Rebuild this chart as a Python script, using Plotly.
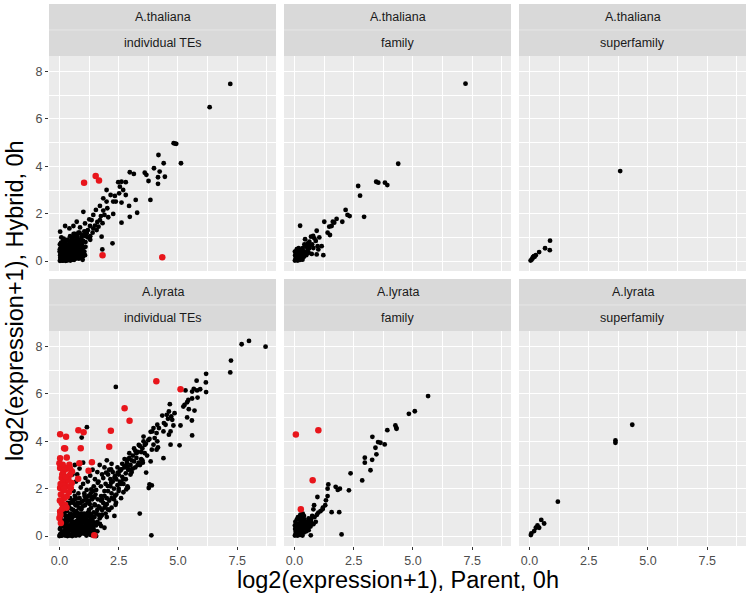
import plotly.graph_objects as go

# ---------------- data ----------------
species = ["A.thaliana", "A.thaliana", "A.thaliana", "A.lyrata", "A.lyrata", "A.lyrata"]
levels = ["individual TEs", "family", "superfamily", "individual TEs", "family", "superfamily"]

x_tick_vals = [0, 2.5, 5, 7.5]
x_tick_text = ["0.0", "2.5", "5.0", "7.5"]
y_tick_vals = [0, 2, 4, 6, 8]
y_tick_text = ["0", "2", "4", "6", "8"]

thal_ind_black = [
    (7.21, 7.48), (6.34, 6.5), (4.82, 4.98), (4.88, 4.96), (4.93, 4.95), (5.13, 4.13),
    (4.18, 4.48), (4.4, 4.13), (3.99, 3.92), (4.23, 3.78), (4.45, 3.56), (4.16, 3.54),
    (4.16, 3.26), (3.6, 3.73), (3.67, 3.64), (3.76, 3.38), (3.84, 2.58), (2.97, 3.75),
    (3.14, 3.68), (2.48, 3.33), (2.62, 3.35), (2.8, 3.33), (2.55, 3.14), (2.69, 3.0),
    (2.52, 2.86), (2.8, 2.79), (2.34, 2.75), (1.99, 3.0), (2.16, 2.79), (2.27, 2.51),
    (1.99, 2.51), (1.85, 2.65), (1.71, 2.33), (2.02, 2.23), (2.38, 2.51), (2.62, 2.47),
    (2.94, 2.33), (3.22, 2.58), (3.28, 2.04), (2.97, 1.87), (2.62, 1.62), (2.27, 1.99),
    (2.06, 1.85), (1.85, 2.13), (1.54, 2.16), (1.43, 1.95), (1.26, 1.76), (1.01, 2.08),
    (1.08, 1.59), (0.87, 1.42), (0.73, 1.66), (0.59, 1.48), (0.42, 1.38), (0.24, 1.48),
    (0.03, 1.24), (1.29, 1.48), (1.43, 1.38), (1.57, 1.31), (1.78, 1.03), (2.24, 0.75),
    (1.81, 0.49), (1.71, 1.73), (1.36, 1.73), (1.15, 1.17), (0.94, 1.1), (1.9, 1.95),
    (1.75, 1.9), (1.6, 1.65), (1.5, 1.5), (1.65, 1.45), (1.82, 1.6), (1.4, 1.2),
    (1.2, 1.3), (1.05, 1.25), (1.3, 1.05), (0.8, 1.2), (0.7, 1.0), (0.6, 1.15),
    (0.02, 0.01), (0.05, 0.08), (0.1, 0.03), (0.15, 0.12), (0.2, 0.05), (0.25, 0.18),
    (0.3, 0.08), (0.35, 0.22), (0.4, 0.1), (0.45, 0.3), (0.5, 0.15), (0.55, 0.35),
    (0.6, 0.2), (0.65, 0.4), (0.7, 0.28), (0.75, 0.5), (0.8, 0.35), (0.85, 0.6),
    (0.9, 0.45), (0.95, 0.7), (1.0, 0.55), (0.03, 0.25), (0.08, 0.35), (0.12, 0.45),
    (0.06, 0.55), (0.1, 0.62), (0.18, 0.5), (0.22, 0.4), (0.28, 0.55), (0.32, 0.65),
    (0.38, 0.48), (0.42, 0.6), (0.48, 0.72), (0.52, 0.55), (0.58, 0.65), (0.62, 0.8),
    (0.68, 0.62), (0.72, 0.85), (0.78, 0.75), (0.82, 0.9), (0.88, 0.82), (0.92, 0.95),
    (0.04, 0.15), (0.14, 0.22), (0.24, 0.3), (0.34, 0.38), (0.44, 0.45), (0.16, 0.02),
    (0.26, 0.01), (0.36, 0.04), (0.46, 0.02), (0.56, 0.06), (0.66, 0.1), (0.76, 0.15),
    (0.86, 0.22), (0.01, 0.4), (0.02, 0.7), (0.07, 0.78), (0.15, 0.85), (0.25, 0.75),
    (0.35, 0.9), (1.1, 0.8), (1.2, 1.0), (1.05, 1.1), (1.3, 0.9), (0.55, 1.0),
    (0.45, 1.05), (0.65, 1.15), (0.85, 1.2), (1.15, 1.25), (0.3, 0.02), (0.1, 0.2),
    (0.2, 0.28), (0.05, 0.45), (0.96, 0.3), (0.9, 0.15), (0.18, 0.95), (0.08, 1.0),
    (0.05, 0.3), (0.1, 0.1), (0.15, 0.35), (0.2, 0.15), (0.25, 0.45), (0.3, 0.3),
    (0.35, 0.6), (0.4, 0.35), (0.45, 0.15), (0.5, 0.4), (0.55, 0.2), (0.6, 0.5),
    (0.65, 0.3), (0.7, 0.5), (0.75, 0.2), (0.8, 0.65), (0.85, 0.4), (0.9, 0.7),
    (0.02, 0.5), (0.08, 0.6), (0.12, 0.75), (0.18, 0.75), (0.22, 0.6), (0.28, 0.85),
    (0.32, 0.45), (0.38, 0.7), (0.42, 0.85), (0.48, 0.55), (0.52, 0.9), (0.58, 0.8),
    (0.62, 0.6), (0.68, 0.85), (0.72, 0.7), (0.78, 0.55), (0.04, 0.05), (0.12, 0.02),
    (0.22, 0.1), (0.32, 0.18), (0.42, 0.25), (0.52, 0.08), (0.62, 0.05), (0.72, 0.12),
    (0.82, 0.1), (0.92, 0.3), (1.0, 0.2), (1.0, 0.85), (1.1, 1.05), (0.95, 1.05),
    (0.75, 1.05), (0.5, 0.8), (1.05, 0.4), (1.1, 0.6), (0.98, 0.05), (1.08, 0.25),
]
thal_ind_red = [(1.04, 3.31), (1.53, 3.59), (1.67, 3.4), (1.82, 0.25), (4.34, 0.16)]

thal_fam_black = [
    (7.22, 7.49), (4.38, 4.11), (3.45, 3.35), (3.54, 3.31), (3.82, 3.31), (3.92, 3.21),
    (2.69, 3.17), (2.77, 2.76), (2.94, 1.87), (2.16, 2.16), (2.24, 1.95), (2.33, 1.9),
    (2.02, 1.66), (1.78, 1.78), (1.68, 1.62), (1.57, 1.48), (1.47, 1.45), (1.26, 1.66),
    (1.62, 1.66), (1.4, 1.2), (1.5, 1.1), (0.94, 1.28), (0.79, 1.06), (1.15, 0.63),
    (1.01, 0.49), (1.22, 0.25), (0.94, 0.28), (0.73, 0.3), (0.62, 0.54), (0.45, 0.92),
    (0.56, 0.75), (0.24, 1.49), (0.98, 0.63), (0.84, 0.96), (0.7, 1.03), (0.63, 0.82),
    (1.05, 1.0), (0.9, 0.85), (0.5, 0.6), (0.42, 0.7), (0.35, 0.55), (0.3, 0.45),
    (0.02, 0.02), (0.05, 0.1), (0.1, 0.05), (0.15, 0.15), (0.2, 0.08), (0.25, 0.2),
    (0.3, 0.12), (0.35, 0.28), (0.4, 0.18), (0.45, 0.35), (0.5, 0.25), (0.03, 0.25),
    (0.08, 0.32), (0.12, 0.4), (0.18, 0.3), (0.22, 0.45), (0.28, 0.38), (0.38, 0.42),
    (0.06, 0.18), (0.14, 0.02), (0.24, 0.05), (0.34, 0.06), (0.55, 0.45), (0.6, 0.35),
    (0.65, 0.65), (0.75, 0.7), (0.8, 0.55), (0.02, 0.4), (0.1, 0.5), (0.18, 0.55),
    (0.08, 0.12), (0.16, 0.22), (0.26, 0.1), (0.32, 0.22), (0.12, 0.28), (0.2, 0.38),
]
thal_fam_red = []

thal_sup_black = [
    (3.83, 3.8), (0.87, 0.86), (0.86, 0.46), (0.66, 0.54), (0.41, 0.38), (0.19, 0.21),
    (0.22, 0.18), (0.13, 0.11), (0.09, 0.06), (0.05, 0.02), (0.15, 0.16), (0.27, 0.25),
]
thal_sup_red = []

lyr_ind_black = [
    (7.69, 8.1), (8.0, 8.24), (8.7, 8.0), (7.24, 7.41), (7.21, 6.91), (6.19, 6.85),
    (6.18, 6.49), (6.19, 6.08), (5.79, 6.56), (5.94, 6.2), (5.81, 6.15), (5.67, 6.22),
    (5.6, 6.1), (5.32, 6.15), (5.83, 5.85), (5.6, 5.81), (5.44, 5.75), (5.39, 5.65),
    (5.28, 5.54), (5.23, 5.47), (5.46, 5.36), (5.7, 5.3), (4.66, 5.57), (4.86, 5.19),
    (4.62, 5.26), (4.53, 5.12), (4.34, 5.09), (4.72, 5.05), (5.39, 5.01), (5.59, 4.88),
    (4.76, 4.91), (4.58, 4.95), (4.41, 4.77), (4.13, 4.7), (4.2, 4.56), (4.48, 4.7),
    (4.81, 4.67), (5.11, 4.67), (3.97, 4.56), (3.92, 4.42), (4.1, 4.35), (4.39, 4.42),
    (4.69, 4.42), (4.62, 4.28), (5.6, 4.25), (4.02, 4.14), (4.13, 4.0), (3.97, 3.86),
    (4.16, 3.74), (4.69, 3.86), (5.07, 3.83), (3.9, 3.65), (4.1, 3.65), (4.39, 3.29),
    (3.85, 3.15), (3.9, 2.14), (3.88, 0.03), (3.39, 0.95), (2.38, 6.3), (1.16, 4.6),
    (0.94, 4.16), (0.4, 2.94), (1.71, 0.51), (2.37, 1.32), (2.87, 2.1), (3.77, 2.03),
    (3.75, 4.05), (3.6, 3.85), (3.5, 3.7), (3.7, 3.4), (3.55, 4.0), (3.4, 3.8),
    (3.3, 3.55), (3.2, 3.6), (3.1, 3.4), (3.25, 3.3), (3.0, 3.0), (3.15, 3.15),
    (2.95, 3.3), (2.85, 3.1), (2.75, 2.9), (2.8, 2.65), (2.9, 2.8), (3.05, 2.7),
    (3.35, 3.1), (3.45, 3.25), (3.6, 3.5), (3.65, 3.9), (3.8, 4.1), (3.85, 4.4),
    (3.5, 3.2), (3.3, 3.0), (3.1, 2.85), (3.66, 2.68), (3.8, 2.18), (3.52, 3.1),
    (2.6, 2.8), (2.65, 2.5), (2.5, 2.6), (2.55, 2.3), (2.45, 2.15), (2.4, 2.4),
    (2.7, 2.2), (2.35, 1.7), (2.3, 2.0), (2.25, 2.3), (2.2, 1.8), (2.15, 2.1),
    (2.1, 1.5), (2.05, 1.9), (2.0, 1.6), (1.95, 1.3), (1.9, 1.7), (1.85, 1.4),
    (1.8, 1.1), (1.75, 1.5), (1.7, 1.2), (1.65, 0.9), (1.6, 0.6), (1.54, 0.45),
    (2.18, 2.82), (1.97, 2.68), (2.61, 2.25), (2.82, 1.97), (2.39, 1.41), (2.04, 1.13),
    (1.76, 0.85), (1.48, 0.56), (1.2, 0.28), (1.76, 0.42), (2.32, 0.85), (1.62, 2.25),
    (1.34, 1.97), (1.06, 1.69), (0.77, 1.41), (1.2, 1.41), (0.92, 1.13), (0.63, 0.85),
    (2.89, 2.04), (2.96, 2.82), (2.89, 3.24), (2.75, 2.96), (2.61, 2.82), (2.46, 2.68),
    (2.32, 2.46), (2.18, 2.25), (2.04, 2.11), (1.9, 1.9), (1.76, 1.69), (1.62, 1.55),
    (1.48, 1.34), (1.34, 1.2), (1.2, 0.99), (1.06, 0.85), (0.92, 0.7), (2.5, 1.9),
    (2.6, 1.6), (2.2, 1.2), (2.0, 0.8), (1.9, 0.35), (2.3, 1.55), (2.7, 2.4),
    (0.5, 2.2), (0.6, 1.9), (0.7, 2.3), (0.55, 2.6), (0.65, 1.7), (0.45, 1.6),
    (0.35, 1.4), (0.25, 1.25), (0.8, 1.8), (0.9, 2.05), (1.0, 2.2), (1.1, 2.45),
    (0.75, 2.6), (0.85, 2.85), (1.2, 2.3), (1.3, 2.55), (1.4, 2.8), (1.5, 2.4),
    (1.6, 2.7), (1.7, 3.0), (1.8, 2.6), (1.9, 2.9), (2.0, 3.2), (2.1, 2.8),
    (2.2, 3.05), (1.0, 3.1), (0.65, 3.0),
    (0.0, 0.0), (0.05, 0.1), (0.1, 0.02), (0.15, 0.2), (0.2, 0.08), (0.25, 0.3),
    (0.3, 0.12), (0.35, 0.4), (0.4, 0.05), (0.45, 0.25), (0.5, 0.5), (0.55, 0.15),
    (0.6, 0.35), (0.65, 0.6), (0.7, 0.02), (0.75, 0.3), (0.8, 0.55), (0.85, 0.8),
    (0.9, 0.1), (0.95, 0.4), (1.0, 0.7), (1.05, 0.95), (1.1, 0.2), (1.15, 0.5),
    (1.2, 0.85), (1.25, 1.1), (1.3, 0.05), (1.35, 0.35), (1.4, 0.65), (1.45, 1.0),
    (1.5, 1.3), (0.02, 0.3), (0.04, 0.55), (0.06, 0.8), (0.08, 1.0), (0.12, 1.2),
    (0.1, 0.45), (0.18, 0.65), (0.22, 0.9), (0.28, 0.7), (0.32, 1.05), (0.38, 0.85),
    (0.42, 1.2), (0.48, 0.95), (0.52, 0.75), (0.58, 1.1), (0.62, 0.9), (0.68, 1.3),
    (0.72, 1.05), (0.78, 0.8), (0.82, 1.2), (0.88, 1.4), (0.92, 1.15), (0.98, 1.25),
    (1.02, 1.5), (1.08, 1.3), (1.12, 1.6), (1.18, 1.45), (1.22, 1.7), (1.28, 1.35),
    (1.32, 1.8), (1.38, 1.55), (1.42, 1.9), (1.48, 1.65), (1.52, 1.75), (0.14, 0.05),
    (0.24, 0.02), (0.34, 0.0), (0.44, 0.02), (0.54, 0.0), (0.64, 0.04), (0.74, 0.08),
    (0.84, 0.03), (0.94, 0.2), (1.04, 0.1), (1.14, 0.02), (1.24, 0.25), (1.34, 0.15),
    (1.44, 0.3), (0.3, 0.55), (0.4, 0.65), (0.5, 0.3), (0.6, 0.55), (0.7, 0.45),
    (0.8, 0.2), (0.9, 0.6), (1.0, 0.35), (1.1, 0.65), (1.2, 0.5), (1.3, 0.7),
    (0.15, 0.45), (0.25, 0.5), (0.35, 0.15), (0.45, 0.75), (0.55, 0.6), (0.65, 0.25),
    (0.75, 0.95), (0.85, 0.45), (0.95, 0.95), (1.05, 0.4), (1.15, 0.8), (1.25, 0.6),
    (0.2, 1.05), (0.3, 1.25), (0.4, 1.35), (0.5, 1.15), (0.6, 1.4), (0.7, 1.6),
    (1.6, 0.2), (1.55, 0.0), (1.4, 0.02), (1.65, 1.25), (1.8, 1.55), (1.95, 0.95),
    (0.05, 0.35), (0.15, 0.6), (0.25, 0.85), (0.35, 0.65), (0.45, 0.9), (0.55, 0.85),
    (0.65, 0.95), (0.75, 0.65), (0.85, 0.95), (0.95, 0.6), (1.05, 0.75), (1.15, 0.35),
    (1.25, 0.85), (1.35, 0.9), (1.45, 0.55), (1.55, 0.95), (1.6, 1.1), (1.7, 0.75),
    (1.8, 0.9), (1.9, 1.2), (2.0, 1.35), (2.1, 1.1), (0.1, 0.15), (0.2, 0.4),
    (0.3, 0.25), (0.4, 0.45), (0.5, 0.05), (0.6, 0.12), (0.7, 0.2), (0.8, 0.1),
    (0.9, 0.3), (1.0, 0.15), (1.1, 0.45), (1.2, 0.15), (1.3, 0.45), (1.4, 0.45),
    (1.5, 0.2), (0.05, 0.7), (0.15, 1.0), (0.25, 1.1), (0.35, 1.2), (0.45, 1.4),
    (0.55, 1.5), (0.65, 1.55), (0.75, 1.3), (0.85, 1.6), (0.95, 1.45), (1.05, 1.8),
    (1.15, 1.95), (1.25, 1.5), (1.35, 1.65), (1.45, 2.1), (1.55, 1.95), (1.65, 2.3),
    (1.75, 2.1), (1.85, 2.45), (1.95, 2.2), (2.05, 2.6), (2.15, 2.4), (2.25, 2.7),
    (2.35, 2.55), (2.45, 2.9), (2.55, 2.75), (2.65, 3.05), (2.75, 3.25), (2.85, 2.95),
    (2.95, 3.5), (3.05, 3.2), (3.15, 3.7), (3.25, 3.5), (3.35, 3.85), (3.45, 3.55),
    (3.55, 4.2), (2.5, 2.0), (2.6, 2.2), (2.8, 2.4), (3.0, 2.6), (3.2, 2.9),
    (3.4, 3.0), (2.2, 1.6), (2.4, 1.75), (2.7, 1.85), (0.02, 0.05), (0.08, 0.02),
    (0.12, 0.1), (0.18, 0.12), (0.22, 0.2), (0.28, 0.15), (0.32, 0.35), (0.38, 0.28),
    (0.42, 0.35), (0.48, 0.4), (0.52, 0.3), (0.58, 0.25), (0.62, 0.45), (0.68, 0.5),
    (0.72, 0.6), (0.78, 0.45), (0.82, 0.35), (0.88, 0.7), (0.92, 0.5), (0.98, 0.85),
    (1.02, 0.3), (1.08, 0.55), (1.12, 0.9), (1.18, 0.65), (1.22, 0.4), (1.28, 0.95),
    (1.32, 0.6), (1.38, 0.8), (1.42, 0.15), (1.48, 0.8),
]
lyr_ind_red = [
    (4.09, 6.54), (5.11, 6.2), (2.75, 5.4), (2.96, 4.87), (2.17, 4.45), (2.1, 3.77),
    (0.03, 4.3), (0.28, 4.19), (0.8, 4.47), (1.02, 4.38), (0.2, 3.71), (0.24, 3.7),
    (0.9, 3.71), (0.03, 3.29), (0.31, 3.32), (0.84, 3.08), (1.37, 3.12), (1.23, 2.76),
    (0.79, 2.42), (1.47, 0.03),
    (0.03, 2.87), (0.17, 2.73), (0.31, 2.84), (0.45, 2.59), (0.1, 2.45), (0.24, 2.31),
    (0.38, 2.38), (0.52, 2.24), (0.03, 2.03), (0.17, 1.92), (0.34, 2.1), (0.48, 2.03),
    (0.06, 1.75), (0.2, 1.6), (0.31, 1.67), (0.1, 1.39), (0.24, 1.32), (0.03, 1.04),
    (0.0, 0.76), (0.06, 0.55), (0.24, 2.87), (0.42, 3.01), (0.53, 2.73), (0.14, 3.01),
    (0.0, 3.08), (0.12, 2.6), (0.27, 2.5), (0.05, 2.2), (0.15, 2.15), (0.4, 1.85),
    (0.02, 1.5), (0.12, 1.15), (0.04, 0.9), (0.3, 1.2), (0.45, 2.85), (0.2, 2.0),
]

lyr_fam_black = [
    (5.64, 5.91), (5.08, 5.27), (4.83, 5.16), (4.26, 4.67), (4.3, 4.57), (4.31, 4.53),
    (3.92, 4.47), (3.29, 4.19), (3.53, 3.97), (3.63, 3.94), (3.81, 3.87), (3.42, 3.73),
    (3.46, 3.45), (2.97, 3.31), (3.28, 3.22), (2.97, 3.1), (3.21, 2.78), (2.37, 2.65),
    (2.86, 2.35), (2.3, 1.93), (1.92, 2.0), (1.74, 2.08), (1.83, 1.95), (1.43, 2.18),
    (1.4, 2.0), (1.4, 1.69), (1.33, 1.51), (0.97, 1.65), (1.57, 1.01), (1.89, 1.01),
    (1.19, 1.13), (1.01, 0.99), (0.8, 1.13), (0.83, 1.3), (1.99, 0.07), (0.69, 0.03),
    (0.45, 0.35), (1.3, 1.3), (1.2, 1.2), (1.1, 1.05), (0.95, 0.9), (0.85, 0.8),
    (0.75, 0.85), (0.7, 0.7), (0.6, 0.75), (0.65, 0.55), (0.55, 0.6), (0.5, 0.5),
    (0.9, 0.6), (0.8, 0.5), (0.35, 0.95), (0.25, 0.9), (0.15, 0.8),
    (0.02, 0.02), (0.05, 0.1), (0.1, 0.04), (0.15, 0.15), (0.2, 0.06), (0.25, 0.22),
    (0.3, 0.1), (0.35, 0.3), (0.4, 0.15), (0.45, 0.4), (0.5, 0.2), (0.55, 0.35),
    (0.6, 0.25), (0.03, 0.3), (0.08, 0.4), (0.12, 0.5), (0.18, 0.35), (0.22, 0.55),
    (0.28, 0.45), (0.32, 0.65), (0.38, 0.55), (0.42, 0.7), (0.48, 0.6), (0.06, 0.2),
    (0.14, 0.02), (0.24, 0.05), (0.34, 0.02), (0.04, 0.6), (0.1, 0.7), (0.2, 0.72),
    (0.3, 0.8), (0.4, 0.85), (0.58, 0.45), (0.68, 0.4), (0.7, 0.6), (0.02, 0.45),
    (0.08, 0.15), (0.16, 0.25), (0.26, 0.32), (0.36, 0.42), (0.12, 0.28), (0.22, 0.12),
]
lyr_fam_red = [(0.06, 4.29), (1.01, 4.47), (0.77, 2.36), (0.27, 1.13)]

lyr_sup_black = [
    (4.34, 4.7), (3.63, 4.04), (3.63, 3.94), (1.2, 1.45), (0.5, 0.68), (0.62, 0.53),
    (0.34, 0.45), (0.41, 0.35), (0.27, 0.35), (0.2, 0.21), (0.08, 0.11), (0.06, 0.04),
]
lyr_sup_red = []

panels_black = [thal_ind_black, thal_fam_black, thal_sup_black,
                lyr_ind_black, lyr_fam_black, lyr_sup_black]
panels_red = [thal_ind_red, thal_fam_red, thal_sup_red,
              lyr_ind_red, lyr_fam_red, lyr_sup_red]

# ---------------- layout geometry ----------------
W, H = 750, 598
X_RANGE = [-0.44, 9.14]
Y_RANGE = [-0.42, 8.66]
col_px = [(49, 276), (284, 511), (519, 746)]
row_px = [(56, 271), (331, 546)]
strip_px = [(4, 56), (279, 331)]
FONT = "Liberation Sans, Arial, Helvetica, sans-serif"

fig = go.Figure()
layout = dict(
    width=W, height=H, margin=dict(l=0, r=0, t=0, b=0),
    paper_bgcolor="white", plot_bgcolor="#EBEBEB", showlegend=False,
    font=dict(family=FONT),
)
shapes = []
annotations = []

for i in range(6):
    r, c = divmod(i, 3)
    n = "" if i == 0 else str(i + 1)
    xl, xr = col_px[c]
    yt, yb = row_px[r]
    xa = dict(
        domain=[xl / W, xr / W], range=X_RANGE, anchor="y" + n,
        tickmode="array", tickvals=x_tick_vals, ticktext=x_tick_text,
        showgrid=True, gridcolor="white", gridwidth=1.1, zeroline=False, showline=False,
        minor=dict(tickmode="array", tickvals=[1.25, 3.75, 6.25, 8.75],
                   showgrid=True, gridcolor="white", gridwidth=0.5, ticks=""),
        showticklabels=(r == 1), ticks="outside" if r == 1 else "",
        ticklen=3, tickwidth=1, tickcolor="#333333",
        tickfont=dict(size=12.5, color="#4D4D4D", family=FONT),
    )
    ya = dict(
        domain=[1 - yb / H, 1 - yt / H], range=Y_RANGE, anchor="x" + n,
        tickmode="array", tickvals=y_tick_vals, ticktext=y_tick_text,
        showgrid=True, gridcolor="white", gridwidth=1.1, zeroline=False, showline=False,
        minor=dict(tickmode="array", tickvals=[1, 3, 5, 7],
                   showgrid=True, gridcolor="white", gridwidth=0.5, ticks=""),
        showticklabels=(c == 0), ticks="outside" if c == 0 else "",
        ticklen=3, tickwidth=1, tickcolor="#333333",
        tickfont=dict(size=12.5, color="#4D4D4D", family=FONT),
    )
    layout["xaxis" + n] = xa
    layout["yaxis" + n] = ya

    blk = panels_black[i]
    fig.add_trace(go.Scatter(
        x=[p[0] for p in blk], y=[p[1] for p in blk], mode="markers",
        marker=dict(color="black", size=4.8, line=dict(width=0)),
        xaxis="x" + n, yaxis="y" + n, hoverinfo="skip"))
    red = panels_red[i]
    if red:
        fig.add_trace(go.Scatter(
            x=[p[0] for p in red], y=[p[1] for p in red], mode="markers",
            marker=dict(color="#E8151B", size=6.5, line=dict(width=0)),
            xaxis="x" + n, yaxis="y" + n, hoverinfo="skip"))

    # strips
    st, sb = strip_px[r]
    mid = (st + sb) / 2
    shapes.append(dict(type="rect", xref="paper", yref="paper",
                       x0=xl / W, x1=xr / W, y0=1 - sb / H, y1=1 - st / H,
                       fillcolor="#D9D9D9", line=dict(width=0), layer="below"))
    shapes.append(dict(type="line", xref="paper", yref="paper",
                       x0=xl / W, x1=xr / W, y0=1 - mid / H, y1=1 - mid / H,
                       line=dict(color="#E6E6E6", width=1)))
    annotations.append(dict(text=species[i], xref="paper", yref="paper",
                            x=(xl + xr) / 2 / W, y=1 - (st + mid) / 2 / H,
                            showarrow=False, xanchor="center", yanchor="middle",
                            font=dict(size=12.5, color="#1A1A1A", family=FONT)))
    annotations.append(dict(text=levels[i], xref="paper", yref="paper",
                            x=(xl + xr) / 2 / W, y=1 - (mid + sb) / 2 / H,
                            showarrow=False, xanchor="center", yanchor="middle",
                            font=dict(size=12.5, color="#1A1A1A", family=FONT)))

annotations.append(dict(text="log2(expression+1), Parent, 0h", xref="paper", yref="paper",
                        x=(49 + 746) / 2 / W, y=1 - 580 / H, showarrow=False,
                        xanchor="center", yanchor="middle",
                        font=dict(size=23.5, color="black", family=FONT)))
annotations.append(dict(text="log2(expression+1), Hybrid, 0h", xref="paper", yref="paper",
                        x=15 / W, y=1 - 301 / H, showarrow=False, textangle=-90,
                        xanchor="center", yanchor="middle",
                        font=dict(size=23.5, color="black", family=FONT)))

layout["shapes"] = shapes
layout["annotations"] = annotations
fig.update_layout(**layout)
fig.write_html("out.html", config={"displayModeBar": False},
               post_script="document.body.style.margin='0px';document.body.style.overflow='hidden';")
